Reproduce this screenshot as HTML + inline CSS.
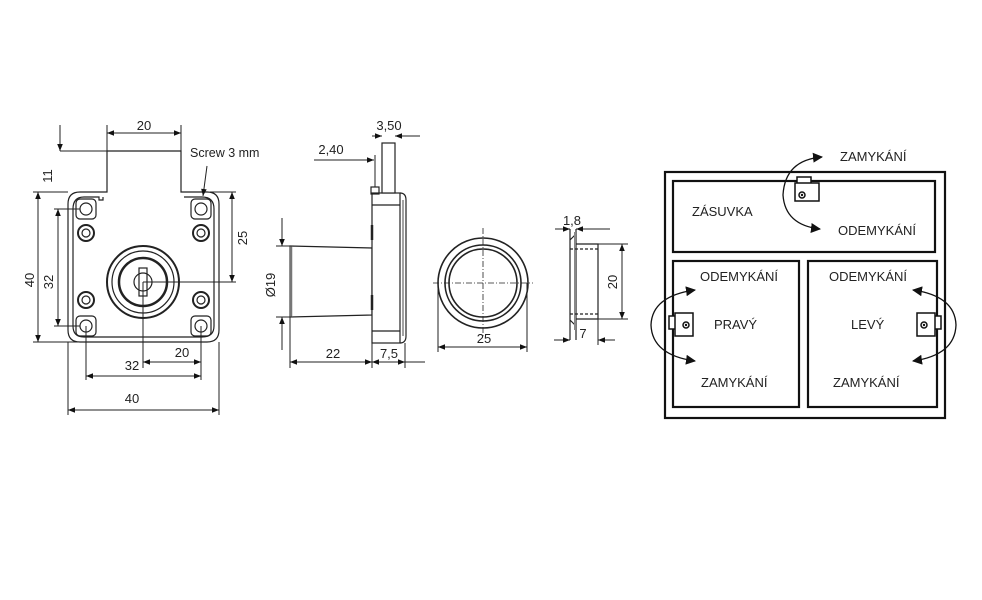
<!DOCTYPE html>
<html><head><meta charset="utf-8"><style>
html,body{margin:0;padding:0;background:#fff}
svg{display:block}
text{font-family:"Liberation Sans",sans-serif;fill:#222}
</style></head><body>
<svg width="982" height="600" viewBox="0 0 982 600" xmlns="http://www.w3.org/2000/svg">
<defs>
<marker id="a" viewBox="0 0 10 10" refX="10" refY="5" markerWidth="11" markerHeight="7" orient="auto-start-reverse" markerUnits="userSpaceOnUse"><path d="M0,1 L10,5 L0,9z" fill="#111"/></marker>
<marker id="b" viewBox="0 0 10 10" refX="9" refY="5" markerWidth="10" markerHeight="10" orient="auto-start-reverse" markerUnits="userSpaceOnUse"><path d="M0,0 L10,5 L0,10z" fill="#111"/></marker>
</defs>
<g stroke="#222" fill="none" stroke-width="1.2">
<path d="M80,192 H107 V151 H181 V192 H207 Q219,192 219,204 V330 Q219,342 207,342 H80 Q68,342 68,330 V204 Q68,192 80,192Z" fill="#fff"/>
<path d="M84,197 H99 V200 H103 V197 M184,197 H202 Q214,197 214,209 V326 Q214,337 202,337 H84 Q73,337 73,326 V209 Q73,197 84,197"/>
<rect x="76" y="199" width="20" height="20" rx="4"/><rect x="191" y="199" width="20" height="20" rx="4"/>
<rect x="76" y="316" width="20" height="20" rx="4"/><rect x="191" y="316" width="20" height="20" rx="4"/>
<circle cx="86" cy="209" r="6"/><circle cx="201" cy="209" r="6"/><circle cx="86" cy="326" r="6"/><circle cx="201" cy="326" r="6"/>
<g stroke-width="2"><circle cx="86" cy="233" r="8"/><circle cx="201" cy="233" r="8"/><circle cx="86" cy="300" r="8"/><circle cx="201" cy="300" r="8"/></g>
<circle cx="86" cy="233" r="4"/><circle cx="201" cy="233" r="4"/><circle cx="86" cy="300" r="4"/><circle cx="201" cy="300" r="4"/>
<circle cx="143" cy="282" r="36" stroke-width="2"/><circle cx="143" cy="282" r="31"/><circle cx="143" cy="282" r="24" stroke-width="2.5"/>
<circle cx="143" cy="282" r="9"/><rect x="139" y="268" width="8" height="28"/>
<g stroke-width="1">
<line x1="107" y1="133" x2="181" y2="133" marker-start="url(#a)" marker-end="url(#a)"/>
<line x1="107" y1="125" x2="107" y2="151"/><line x1="181" y1="125" x2="181" y2="151"/>
<line x1="60" y1="151" x2="107" y2="151"/><line x1="60" y1="125" x2="60" y2="151" marker-end="url(#a)"/>
<line x1="38" y1="192" x2="38" y2="342" marker-start="url(#a)" marker-end="url(#a)"/>
<line x1="33" y1="192" x2="68" y2="192"/><line x1="33" y1="342" x2="100" y2="342"/>
<line x1="58" y1="209" x2="58" y2="326" marker-start="url(#a)" marker-end="url(#a)"/>
<line x1="54" y1="209" x2="80" y2="209"/><line x1="54" y1="326" x2="80" y2="326"/>
<line x1="232" y1="192" x2="232" y2="282" marker-start="url(#a)" marker-end="url(#a)"/>
<line x1="210" y1="192" x2="236" y2="192"/><line x1="143" y1="282" x2="236" y2="282"/>
<line x1="143" y1="282" x2="143" y2="368"/><line x1="86" y1="326" x2="86" y2="380"/><line x1="201" y1="326" x2="201" y2="380"/>
<line x1="143" y1="362" x2="201" y2="362" marker-start="url(#a)" marker-end="url(#a)"/>
<line x1="86" y1="376" x2="201" y2="376" marker-start="url(#a)" marker-end="url(#a)"/>
<line x1="68" y1="342" x2="68" y2="415"/><line x1="219" y1="342" x2="219" y2="415"/>
<line x1="68" y1="410" x2="219" y2="410" marker-start="url(#a)" marker-end="url(#a)"/>
<line x1="207" y1="166" x2="203" y2="196" marker-end="url(#a)"/>
</g>
<path d="M290,246 L372,248 V315 L290,317Z" fill="#fff"/>
<line x1="291" y1="246" x2="291" y2="317" stroke="#777" stroke-width="2.5"/>
<rect x="372" y="193" width="28" height="150" fill="#fff"/>
<rect x="371" y="187" width="8" height="7"/>
<rect x="382" y="143" width="13" height="50" fill="#fff"/>
<path d="M400,193 Q406,193 406,200 V336 Q406,343 400,343"/>
<line x1="372" y1="205" x2="400" y2="205"/><line x1="372" y1="331" x2="400" y2="331"/>
<line x1="403" y1="200" x2="403" y2="336" stroke="#666"/>
<line x1="372" y1="225" x2="372" y2="240" stroke-width="2.5"/><line x1="372" y1="295" x2="372" y2="310" stroke-width="2.5"/>
<g stroke-width="1">
<line x1="372" y1="136" x2="382" y2="136" marker-end="url(#a)"/><line x1="420" y1="136" x2="395" y2="136" marker-end="url(#a)"/>
<line x1="314" y1="160" x2="374" y2="160" marker-end="url(#a)"/><line x1="375" y1="155" x2="375" y2="187"/>
<line x1="282" y1="218" x2="282" y2="246" marker-end="url(#a)"/><line x1="282" y1="350" x2="282" y2="317" marker-end="url(#a)"/>
<line x1="276" y1="246" x2="292" y2="246"/><line x1="276" y1="317" x2="292" y2="317"/>
<line x1="290" y1="317" x2="290" y2="368"/><line x1="372" y1="343" x2="372" y2="368"/><line x1="405" y1="343" x2="405" y2="368"/>
<line x1="290" y1="362" x2="372" y2="362" marker-start="url(#a)" marker-end="url(#a)"/>
<line x1="372" y1="362" x2="405" y2="362" marker-start="url(#a)" marker-end="url(#a)"/><line x1="405" y1="362" x2="425" y2="362"/>
</g>
<circle cx="483" cy="283" r="45" stroke-width="1.6"/><circle cx="483" cy="283" r="38" stroke-width="1.6"/><circle cx="483" cy="283" r="34" stroke-width="1.6"/>
<g stroke-width="0.8" stroke-dasharray="6,2,1,2"><line x1="433" y1="283" x2="533" y2="283"/><line x1="483" y1="228" x2="483" y2="338"/></g>
<g stroke-width="1"><line x1="438" y1="283" x2="438" y2="352"/><line x1="527" y1="283" x2="527" y2="352"/>
<line x1="438" y1="347" x2="527" y2="347" marker-start="url(#a)" marker-end="url(#a)"/></g>
<path d="M570,229 V340 M576,229 V340 M570,240 L576,234 M570,320 L576,326" />
<line x1="575" y1="232" x2="575" y2="330" stroke="#888" stroke-width="2"/>
<path d="M576,244 H598 V319 H576"/>
<line x1="570" y1="249" x2="598" y2="249" stroke-dasharray="3,2"/><line x1="570" y1="314" x2="598" y2="314" stroke-dasharray="3,2"/>
<g stroke-width="1">
<line x1="555" y1="229" x2="570" y2="229" marker-end="url(#a)"/><line x1="610" y1="229" x2="576" y2="229" marker-end="url(#a)"/>
<line x1="598" y1="244" x2="628" y2="244"/><line x1="598" y1="319" x2="628" y2="319"/>
<line x1="622" y1="244" x2="622" y2="319" marker-start="url(#a)" marker-end="url(#a)"/>
<line x1="554" y1="340" x2="570" y2="340" marker-end="url(#a)"/><line x1="615" y1="340" x2="598" y2="340" marker-end="url(#a)"/>
<line x1="598" y1="319" x2="598" y2="345"/>
</g>
</g>
<g font-size="13">
<text x="144" y="130" text-anchor="middle">20</text>
<text x="52" y="176" transform="rotate(-90 52 176)" text-anchor="middle">11</text>
<text x="34" y="280" transform="rotate(-90 34 280)" text-anchor="middle">40</text>
<text x="53" y="282" transform="rotate(-90 53 282)" text-anchor="middle">32</text>
<text x="247" y="238" transform="rotate(-90 247 238)" text-anchor="middle">25</text>
<text x="190" y="157" font-size="12.5">Screw 3 mm</text>
<text x="182" y="357" text-anchor="middle">20</text>
<text x="132" y="370" text-anchor="middle">32</text>
<text x="132" y="403" text-anchor="middle">40</text>
<text x="389" y="130" text-anchor="middle">3,50</text>
<text x="331" y="154" text-anchor="middle">2,40</text>
<text x="275" y="285" transform="rotate(-90 275 285)" text-anchor="middle">Ø19</text>
<text x="333" y="358" text-anchor="middle">22</text>
<text x="389" y="358" text-anchor="middle">7,5</text>
<text x="484" y="343" text-anchor="middle">25</text>
<text x="572" y="225" text-anchor="middle">1,8</text>
<text x="617" y="282" transform="rotate(-90 617 282)" text-anchor="middle">20</text>
<text x="583" y="338" text-anchor="middle">7</text>
</g>
<g stroke="#111" stroke-width="2.2" fill="none">
<rect x="665" y="172" width="280" height="246"/>
<rect x="673" y="181" width="262" height="71"/>
<rect x="673" y="261" width="126" height="146"/>
<rect x="808" y="261" width="129" height="146"/>
</g>
<g stroke="#111" stroke-width="1.5" fill="#fff">
<rect x="797" y="177" width="14" height="7"/><rect x="795" y="183" width="24" height="18"/><circle cx="802" cy="195" r="3"/>
<rect x="669" y="316" width="7" height="13"/><rect x="675" y="313" width="18" height="23"/><circle cx="686" cy="325" r="3"/>
<rect x="934" y="316" width="7" height="13"/><rect x="917" y="313" width="18" height="23"/><circle cx="924" cy="325" r="3"/>
</g>
<g fill="#111"><circle cx="802" cy="195" r="1.2"/><circle cx="686" cy="325" r="1.2"/><circle cx="924" cy="325" r="1.2"/></g>
<g stroke="#111" stroke-width="1.3" fill="none">
<path d="M822,157 Q785,160 783,195 Q785,225 820,229" marker-end="url(#b)" marker-start="url(#b)"/>
<path d="M695,290 Q652,296 651,325 Q652,355 695,361" marker-end="url(#b)" marker-start="url(#b)"/>
<path d="M913,290 Q955,296 956,325 Q955,355 913,361" marker-end="url(#b)" marker-start="url(#b)"/>
</g>
<g font-size="13" fill="#111">
<text x="840" y="161">ZAMYKÁNÍ</text>
<text x="692" y="216">ZÁSUVKA</text>
<text x="838" y="235">ODEMYKÁNÍ</text>
<text x="700" y="281">ODEMYKÁNÍ</text>
<text x="714" y="329">PRAVÝ</text>
<text x="701" y="387">ZAMYKÁNÍ</text>
<text x="829" y="281">ODEMYKÁNÍ</text>
<text x="851" y="329">LEVÝ</text>
<text x="833" y="387">ZAMYKÁNÍ</text>
</g>
</svg>
</body></html>
